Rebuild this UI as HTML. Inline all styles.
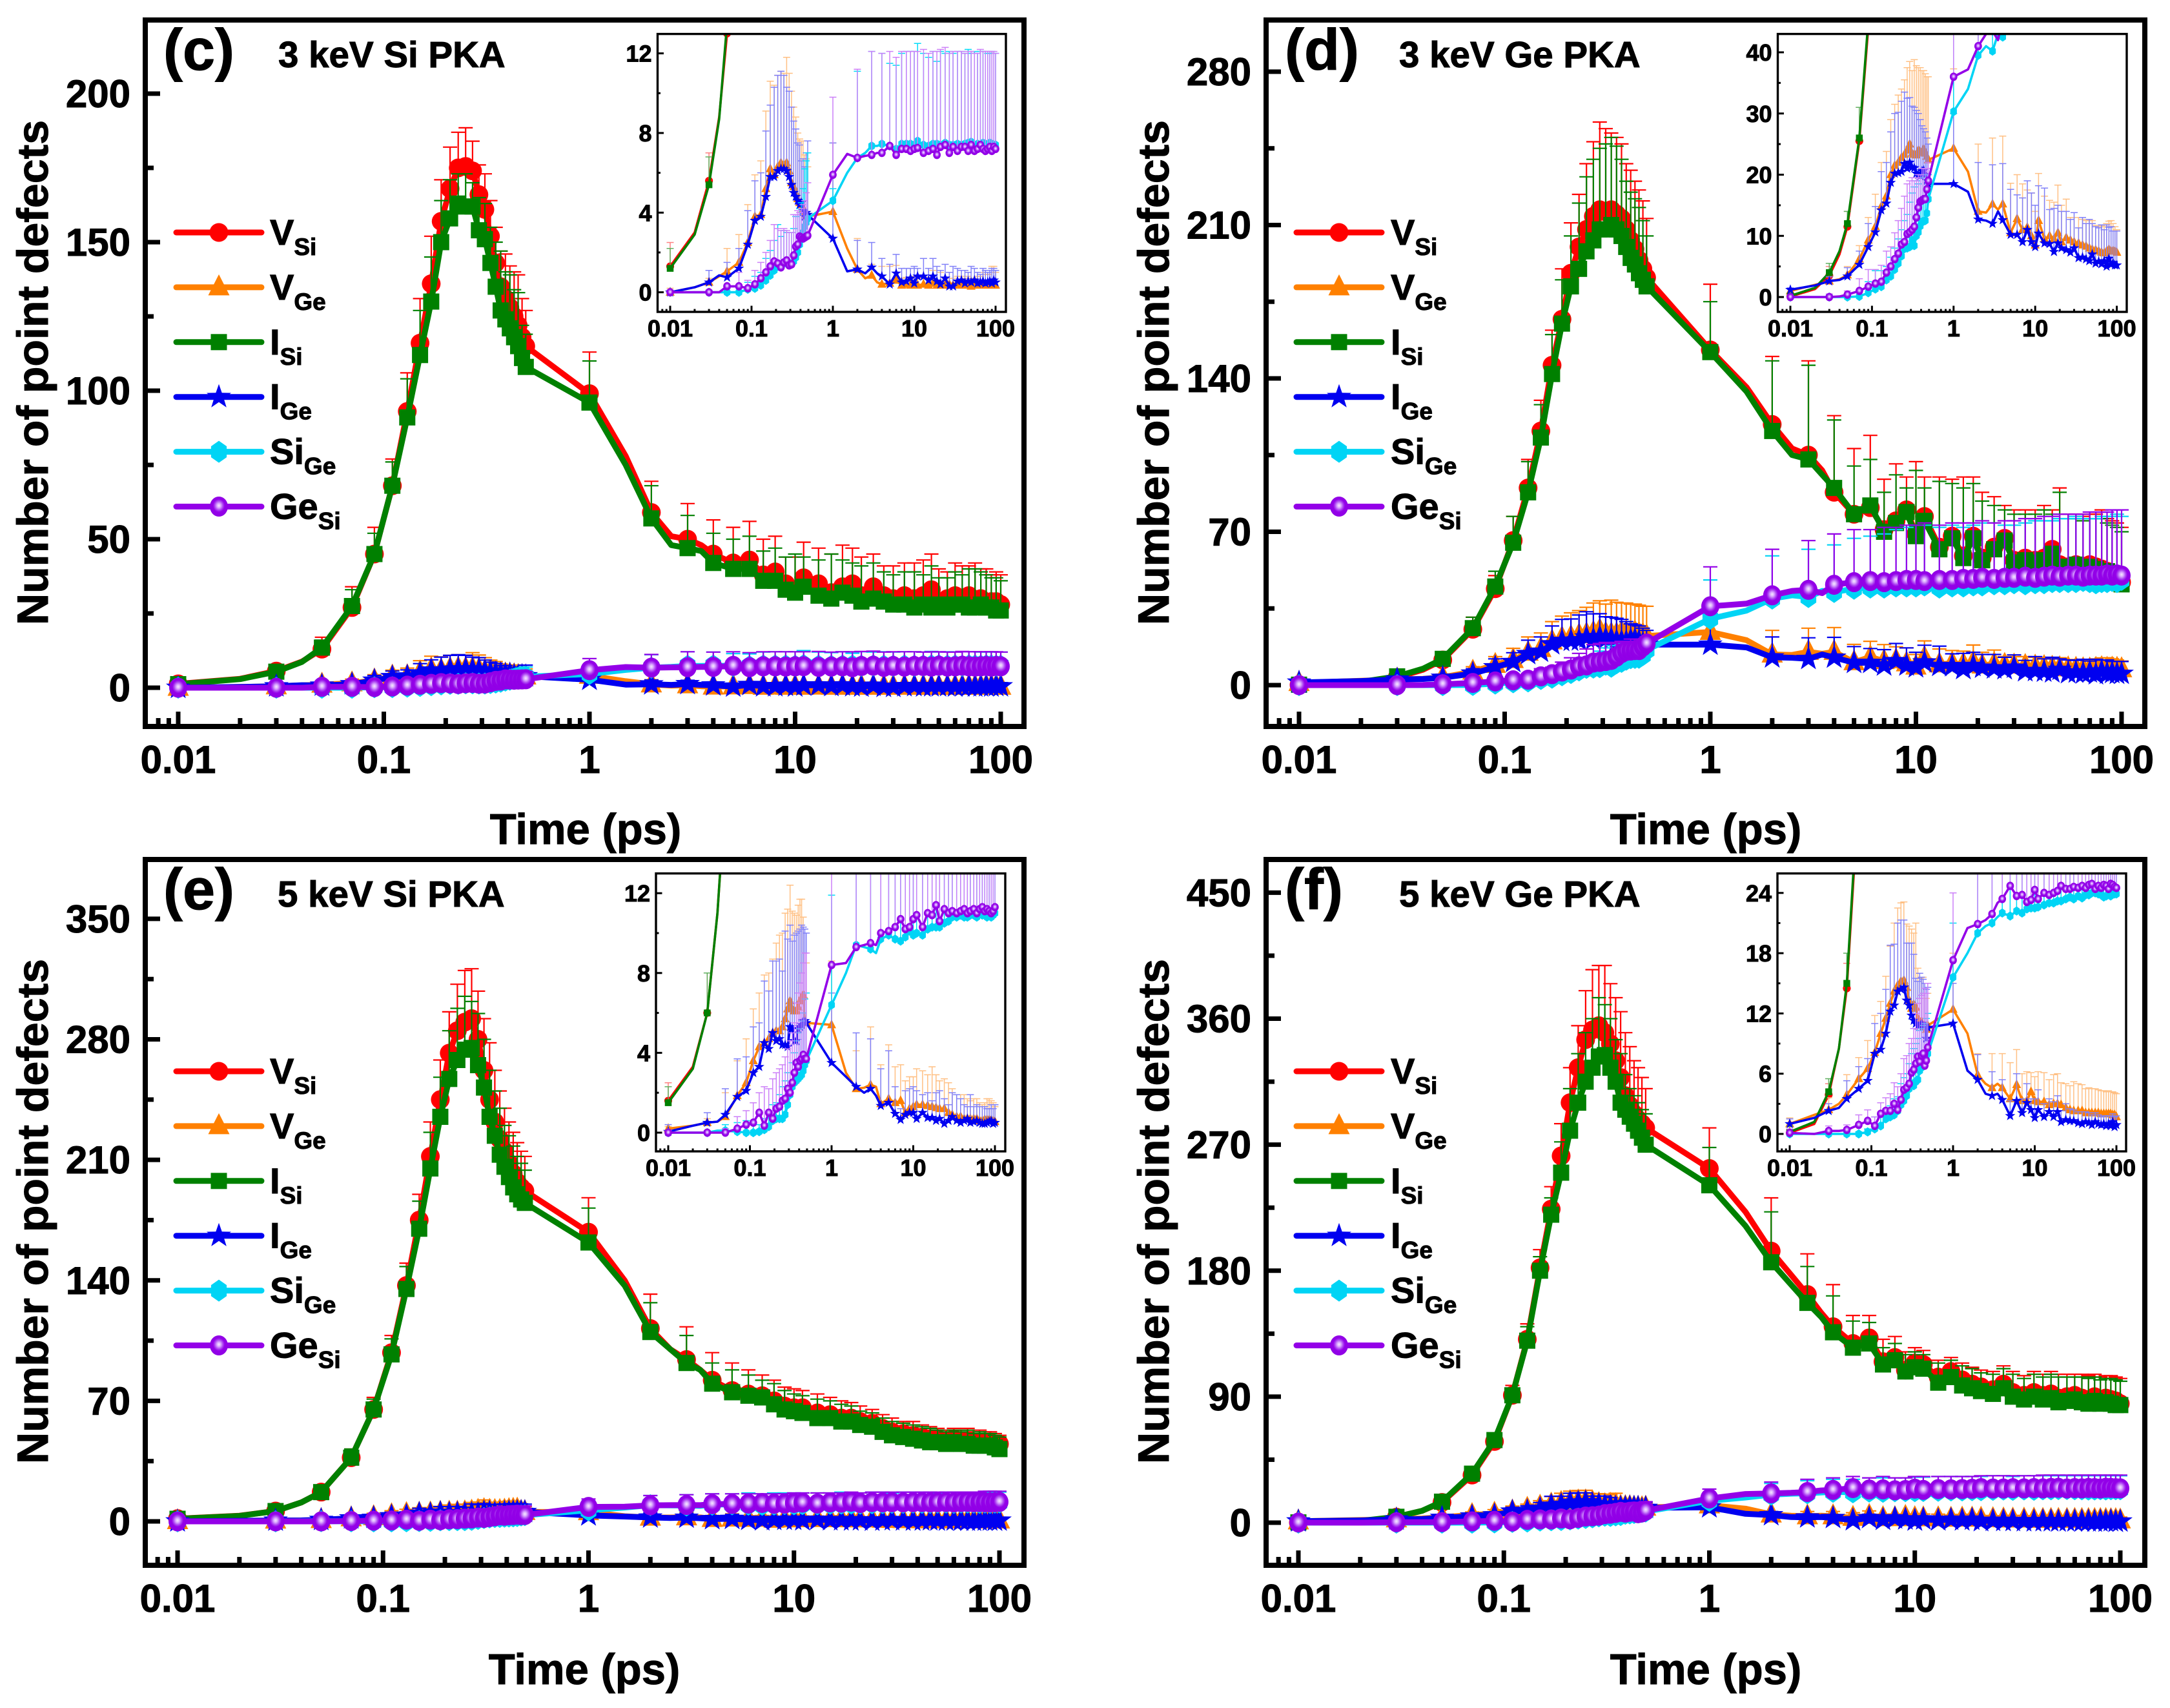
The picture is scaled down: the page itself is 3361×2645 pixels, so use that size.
<!DOCTYPE html>
<html lang="en">
<head>
<meta charset="utf-8">
<title>Number of point defects vs time</title>
<style>
html,body{margin:0;padding:0;background:#fff}
svg{display:block}
text{font-family:"Liberation Sans",Arial,sans-serif;font-weight:bold;fill:#000;stroke:#000;stroke-width:1px}
</style>
</head>
<body>
<svg id="figure" xmlns="http://www.w3.org/2000/svg" width="3361" height="2645" viewBox="0 0 3361 2645">
<defs>
<radialGradient id="gloss" cx="50%" cy="45%" r="50%">
<stop offset="0" stop-color="#f6e8ff"/><stop offset="0.2" stop-color="#dcb0ff"/><stop offset="0.48" stop-color="#a83af0"/><stop offset="0.65" stop-color="#9400e8"/><stop offset="1" stop-color="#9000e6"/>
</radialGradient>
</defs>
</svg>
<script>
// Shared time axis (ps)
const times=[.01,.02,.03,.04,.05,.07,.09,.11,.13,.15,.17,.19,.21,.23,.25,.27,.29,.31,.33,.35,.37,.39,.41,.43,.45,.47,.49,
1,1.5,2,2.5,3,3.5,4,5,6,7,8,9,10,
11,13,15,17,19,21,24,27,30,34,38,42,46,50,55,60,65,70,75,80,85,90,95,100];
// Line vertices that carry no symbol or error bar
const unmarked=[.02,.04,1.5,2.5,3.5];
const xTicks=[.01,.1,1,10,100];
const xTickLabels=['0.01','0.1','1','10','100'];
const seriesKeys=['VSi','VGe','ISi','IGe','SiGe','GeSi'];

// ---------- Panel (c) 3 keV Si PKA ----------
const cVSi=[1.3,3,5.6,8.8,13,27,45,68,93,116,136,157,168,175,175.5,174,166,161,152,143,135,131,128,125,122,118,115,
99,78,59,51,50,48,45,42,43,38,39,35,33,
37,35,32,34,35,31,34,31,30,31,30,31,33,29,30,31,29,31,29,30,28,29,29,28];
const cVGe=[0,.25,.5,.8,1.05,1.5,2.5,3.8,3.9,5.2,6.2,5.9,6.3,6.5,6.4,6.5,6.1,5.5,5.3,5,4.7,4.5,4.4,4.2,4,3.9,3.8,
4.05,2.2,1.15,.7,.85,.5,.4,.45,.6,.35,.4,.35,.4,
.35,.4,.35,.45,.35,.4,.35,.4,.35,.4,.35,.4,.35,.3,.35,.4,.35,.4,.35,.35,.4,.35,.4,.35];
const cISi=[1.2,2.9,5.4,8.7,13.5,27.5,45,68,91,112,130,150,158,163,162,162,154,151,143,135,127,124,121,118,115,111,108,
96,75,57,48,47,46,42,40,40,36,36,33,32,
34,31,30,32,31,29,30,29,28,28,27,28,27,28,27,28,28,27,27,28,27,27,26,26];
const cIGe=[0,.25,.5,.85,.75,1.2,2.4,3.6,3.8,4.8,5.8,5.8,6.1,6.2,6.2,6.1,5.8,5.4,5,4.8,4.6,4.4,4.5,4.1,3.8,4,3.9,
2.7,1.05,1.15,.95,1.25,.95,.8,.4,.95,.5,.55,.7,.45,
.8,.8,.6,.8,.55,.4,.7,.3,.3,.55,.6,.45,.55,.5,.6,.45,.5,.55,.45,.5,.55,.45,.6,.5];
const cSiGe=[0,0,0,0,0,0,.15,.2,.35,.6,.85,1.1,1.3,1.3,1.45,1.45,1.4,1.4,1.55,1.75,2,2.4,2.7,3,3.3,3.5,3.7,
4.6,6,6.75,7,7.35,7.35,7.45,7.35,7.2,7.45,7.45,7.45,7.4,
7.6,7.4,7.35,7.45,7.45,7.4,7.5,7.4,7.4,7.45,7.4,7.45,7.5,7.55,7.4,7.45,7.4,7.5,7.45,7.4,7.5,7.45,7.4,7.4];
const cGeSi=[0,0,0,0,.3,.3,.2,.4,.7,1,1.3,1.55,1.45,1.25,1.5,1.6,1.35,1.4,1.85,2.3,2.4,2.8,2.75,2.7,2.75,2.8,2.85,
5.9,6.95,6.75,6.85,6.9,7,7,7.35,6.9,7.2,7.2,7.1,7.2,
7.25,7,7.1,7.2,6.9,7.3,7.4,7,7.3,7.1,7.3,7.3,7.1,7.4,7.1,7.2,7.4,7.2,7.1,7.2,7.3,7.1,7.3,7.2];
// Upper end of each error bar
const cVSiTop=[2.5,0,7,0,17,34,54,77,106,131,152,171,182,187,188.5,184,176,173,164,155,147,146,142,140,139,131,127,
113,0,69.5,0,62,0,56.5,54,56,50,51,44,44,
49,47,45,48,47,44,45,41,41,42,42,43,45,40,39,42,41,41,42,40,40,38,39,38];
const cVGeTop=[.2,0,.7,0,2.2,2.9,4.4,5.9,6.6,9.1,10.6,10.4,10.9,11.1,11,11.8,11,10.1,9.3,8.8,8,7.7,7.6,7.6,6.9,6.7,6.3,
7.5,0,2.7,0,1.4,0,1.3,1.3,1.35,.7,.75,.7,.8,
.75,.7,.75,1.1,1.1,1,.7,.7,.7,.8,.8,.7,.8,.7,.7,.8,.8,1,.9,.9,1,1.3,1.3,1];
const cISiTop=[2.2,0,6.8,0,16,33,52,76,104,127,145,164,171,173,173,170,165,163,155,150,147,140,139,134,133,122,119,
110,0,68,0,58,0,52,50,51,46,47,44,45,
44,43,45,43,42,41,42,39,38,39,39,38,41,37,37,39,38,40,40,39,38,37,37,36];
const cIGeTop=[.1,0,1.1,0,1.5,2.2,4.1,5.6,6,8.1,9.4,10.3,10.9,11.1,10.9,10.3,10.1,9.3,8.6,8.2,7.5,7.4,6.6,6.7,6.3,7,7.6,
7.5,0,2.6,0,2.5,0,1.7,1.4,1.9,1.2,1.2,1.2,1.3,
1.2,1.7,1.2,1.7,1.3,1.1,1.4,1,1.3,1.2,1.1,1.1,1,1.3,1.2,1,.9,1.2,1.1,1,1.1,1.2,1.2,1.1];
const cSiGeTop=[.1,0,.1,0,.2,.3,.5,.8,1,1.7,2.1,2.6,3.4,2.8,3.1,3,3,3,3.2,3.8,3.9,4.2,4.5,5.2,6.2,6.6,7,
5.2,0,11.1,0,12.1,0,12,11.5,11.4,12,12.1,12.1,12.1,
12.5,12,11.8,12.1,11.6,12.1,12,12.1,12,12.1,12.1,12,12.2,12,12.1,12,12.1,12.1,12.1,12,12,12.1,12,12];
const cGeSiTop=[.1,0,.1,0,.2,1,.6,1.1,1.5,2,2.6,3.4,3.2,3.1,3.2,3.1,3,3,3.9,3.9,4.1,4,4.2,4.4,4.6,5,5.5,
9.8,0,11.2,0,12.1,0,12,12.1,11.8,12.1,12.1,12.1,12.1,
12.1,12.2,12,12.1,12.1,12.2,12.3,12,12.1,12.1,12.1,12,12.1,12.1,12,12,12.2,12.1,12.1,12.1,12.1,12.1,12.1,12];
const cYTicks=[0,50,100,150,200];
const cInsetYTicks=[0,4,8,12];

// ---------- Panel (d) 3 keV Ge PKA ----------
const dVSi=[.1,1.3,3.5,7,11.5,25.5,44,66,90,116,146,167,188,200,208,214,217,216,217,215,213,208,203,199,194,190,186,
153,136,119,108,105,98,88,78,81,71,75,80,69,
77,63,68,59,68,58,63,67,57,58,57,58,62,55,54,55,54,55,54,53,52,50,49,47];
const dVGe=[1,2,2.6,2.9,3.6,6.2,9.3,11.5,14.8,16.5,20,21.5,22,22.8,23.3,24,25,23.5,23.3,23.2,24,23.8,23.6,24.2,23.5,23,22.4,
24.3,20.5,14,13.8,15.2,14.3,15.2,10.5,12.8,11,11.4,10,8.5,
12.5,9.5,10,9.5,10.5,9,9.7,9.3,9,8.8,8.5,8.3,8,7.8,7.7,7.5,7.3,7.2,7.5,7.8,7.5,7.6,7.5,7.3];
const dISi=[.2,1.5,4,7.5,12,26,45,65,88,113,142,165,182,190,198,203,208,208,210,208,205,200,195,192,188,185,182,
152,134,116,105,103,96,90,78,82,70,74,79,68,
75,62,67,58,67,57,62,66,56,57,56,57,60,54,54,55,54,54,53,52,52,50,48,46];
const dIGe=[1.2,1.9,2.6,2.8,3.4,5.3,8.2,10.6,14.2,15.3,18.7,20.2,20.3,20.5,21.8,21,22,21.2,21.1,20.2,20,19.8,20.6,20.7,20,19,18.5,
18.5,17.2,12.7,12.5,12,14,12.6,10.2,10.2,9,11,9,8.2,
10.4,8.8,8.7,7.4,8.8,8,7.7,7.3,8,6.4,6.5,6.2,5.9,7,5.5,5.8,5.4,5.9,5,6.3,5.3,5.6,5.2,5.2];
const dSiGe=[0,0,0,0,0,.1,.7,1.3,1.7,2.8,3.4,4.5,5.5,6.7,7.9,8,8.2,9.3,8.4,10,10.6,11.6,12.3,12.4,12.5,13.7,16,
30.3,34,39.5,41,40.2,43,42.5,44,44.5,44.5,45,45,45,
45.5,44.5,45,45,45.5,45.5,46,46,46.5,46,46.5,46.5,47,47,47,47,47.5,47,46.5,47,47,47.5,47,48];
const dGeSi=[0,0,0,.1,.4,1,1.7,2.2,2.5,4,5,6.2,7.1,8.6,9,10.3,10.6,11,11.5,13,14.6,15.6,15.8,16,16,17.6,19,
36,37.2,41,43,43.5,42,45.8,47,47.5,47,47.5,48,48,
47.5,48,48,48.5,48.5,49,48.5,49,49,49.5,49,49.5,50,49.5,50,50,49.5,50,50,50,50.5,50,50.5,50];
const dVSiTop=[.5,0,5,0,14,31,50,77,103,130,162,190,211,224,238,248,257,254,252,250,247,238,235,230,226,221,213,
183,0,150,0,148,0,123,108,114,94,101,95,102,
95,95,94,95,95,88,86,82,80,80,80,82,80,90,78,78,77,78,78,80,76,75,74,72];
const dVGeTop=[1.5,0,3.5,0,5,8.4,13,16.8,22,23.8,29,31.5,33,34,35.5,37.5,38.5,37,38.8,37.8,37.5,37.5,37,37,36.5,36,36,
37.3,0,25,0,26,0,26.3,18.6,20,18.5,17.5,17,14,
20.2,16.5,15.8,15.5,18.3,15,16,13,13,13,12.7,12.5,12.5,12.5,11.7,11.5,11.7,11.5,12,12.4,12.5,12,11.5,11];
const dISiTop=[.5,0,5.5,0,14,31,52,77,102,128,160,185,205,220,232,240,245,247,250,246,240,230,225,222,218,212,205,
175,0,148,0,146,0,121,100,103,88,96,90,98,
90,93,92,90,92,84,82,80,78,78,78,80,78,88,76,76,75,76,76,76,74,73,72,70];
const dIGeTop=[1.5,0,3.3,0,4.8,7.5,12,14.8,20.5,22,27,30,30.2,32,33.5,32.5,32.6,31.2,31,30.5,30,29,28,27.5,27,26,25,
30,0,22,0,21.6,0,21.8,17.6,16.7,16.2,19,17,15,
18.2,17.8,14.3,14.5,15,14,14,12.7,13.8,11.3,13,12,12.7,12,11.5,11.3,11.8,11,11.8,11.4,11.5,10.8,10.8,10.8];
const dSiGeTop=[.1,0,.3,0,.6,1,2.5,4.3,4.3,5,6.5,8,9.5,11,12.5,13.5,15.5,17,18,19,18.5,19.5,20,19.5,20,19,20,
48,0,59,0,62,0,64,67,68,69,71,72,73,
73,72,73,72,73,74,74,73,73,74,75,75,75,76,76,77,76,76,76,77,77,77,78,77];
const dGeSiTop=[.1,0,.5,0,1,3,4.5,4.5,5.2,7.5,8.2,10.5,12.5,14.5,16.5,18.5,19,19.5,19,19.5,20,20,21,21,21,21,22,
54,0,62,0,66,0,69,71,71,72,72,73,73,
74,73,74,74,74,75,74,75,75,76,76,77,77,78,78,78,78,79,79,79,79,80,80,80];
const dYTicks=[0,70,140,210,280];
const dInsetYTicks=[0,10,20,30,40];

// ---------- Panel (e) 5 keV Si PKA ----------
const eVSi=[1.6,3.3,6,11,17,37,65,98,137,175,212,245,272,285,290,292,280,262,245,232,222,215,208,202,197,194,192,
168,140,112,100,94,88,82,76,74,73,70,67,66,
66,63,62,60,60,58,57,54,52,51,50,49,48,48,47,48,47,47,46,46,46,46,45,45];
const eVGe=[.2,.35,.5,.55,.8,1.85,2.5,3.6,4.3,4.5,4.7,5,5.1,5.1,5.3,5.7,6.2,6.6,6.2,6.1,6.1,6.3,6.6,6.8,6.9,5.6,5.5,
5.4,3,2.2,2.25,2.4,2.3,1.45,1.7,1.5,1.6,1,1.2,1.3,
1.4,1.4,1.35,1.3,1.25,1.2,1.2,1,.9,.8,.8,.7,.7,.7,.7,.7,.6,.6,.65,.65,.65,.6,.6,.55];
const eISi=[1.5,3.2,6,11,17,37,65,97,135,170,205,235,257,268,274,275,265,252,235,224,213,206,200,194,190,187,185,
162,137,110,100,92,88,80,75,73,72,68,65,64,
63,60,60,58,58,56,55,52,50,49,48,47,46,46,45,46,45,45,44,44,44,44,43,42];
const eIGe=[.05,.35,.5,.55,.9,1.8,2.1,3,3.3,4.5,4.2,5,4.6,4.7,4.4,4.4,4.3,5.3,5.2,4.6,4.6,5.2,5.3,5.4,5.6,5.6,5.5,
3.5,2.8,2.3,2,2.2,1.85,1.35,1.5,.95,.65,.9,1,1,
.7,1,.75,.75,.6,.7,.45,.6,.8,.6,.5,.6,.7,.5,.55,.6,.5,.45,.45,.5,.55,.6,.45,.5];
const eSiGe=[0,0,0,.1,.1,.05,0,0,.05,.15,.3,.6,.7,.7,.7,.9,1.4,1.9,2.3,2.5,2.6,2.7,2.8,2.9,3.1,3.4,3.6,
6.4,8,9.4,9.3,9.2,9,9.7,9.9,9.7,9.6,9.8,10.1,9.9,
10,9.9,10.2,10.3,10.3,10.3,10.5,10.6,10.8,10.8,10.9,10.8,10.8,10.9,10.9,10.8,11,10.9,10.9,10.8,10.9,10.8,10.9,11];
const eGeSi=[0,0,0,0,0,.2,.4,.5,1,.35,1,.7,1.2,1.3,1.6,1.7,2.2,2,2.5,3,3.5,3.3,3.6,3.7,3.9,3.7,3.7,
8.4,8.5,9.3,9.4,9.5,9.4,10,10.1,10.3,10.7,10.2,10.3,10.7,
10.9,10.3,11,10.9,11.4,10.6,11.2,11,11.1,11,11.1,11.2,11,11.1,11.2,11,11.2,11.3,11.1,11.2,11.1,11,11.1,11.3];
const eVSiTop=[2.5,0,8,0,20,42,72,108,150,190,232,268,296,312,320,321,308,292,278,262,250,240,232,226,220,215,212,
188,0,132,0,113,0,98,92,88,85,82,78,77,
76,74,72,70,69,67,65,62,60,58,58,56,55,54,53,54,53,54,52,53,52,52,51,50];
const eVGeTop=[.3,0,.7,0,2,3.6,4.7,6.2,7,7.9,8,8.7,9.5,9.9,10,11,11.2,12.4,11.1,11,10.9,11.4,11.7,11.7,10.8,9,8.5,
8.6,0,4.1,0,5.3,0,3.4,4.4,3.3,3.4,2.6,2.8,2.8,
3.2,3.1,2.9,3.3,2.9,2.6,2.7,2.5,2.2,1.9,1.9,1.9,1.7,1.6,1.7,1.7,1.5,1.4,1.5,1.7,1.7,1.6,1.5,1.3];
const eISiTop=[2.3,0,8,0,20,42,71,106,148,186,226,258,285,298,305,302,295,280,262,250,240,230,224,218,212,208,204,
182,0,127,0,108,0,92,88,85,82,80,76,74,
73,71,70,68,67,64,63,60,58,57,56,55,54,53,52,53,52,53,51,52,51,51,50,49];
const eIGeTop=[.4,0,1,0,2.2,3.7,3.8,5.3,5.5,7.6,7.1,8.6,8.6,8.7,8.1,10.1,9.7,10.4,9.6,9.9,10,10.1,10.2,10.4,10.3,10.2,10,
7,0,5,0,4.7,0,3.2,4.1,2.3,1.2,2.1,2.2,2.3,
2.1,1.9,2,1.6,2,2.1,1.7,1.4,2,1.9,1.7,1.4,1.3,1.9,1.3,1.4,1.3,1.3,1.3,1.2,1.2,1.4,1.2,1.4];
const eSiGeTop=[.1,0,.1,0,.4,.5,.6,.4,.4,.7,1,1.4,1.5,1.9,2.3,2.6,3,3,3.5,4,4.6,5,5.2,5.6,6,6.7,7,
11.9,0,15,0,15.5,0,16,16,16.5,16,16.5,16.5,16.5,
16.5,16.5,16.5,17,16.5,16.5,17,17,16.5,17,17,17,17,16.5,17,17,17,17,17,17,16.5,17,17,17];
const eGeSiTop=[.1,0,.1,0,.2,.8,1.1,1.5,2,2.3,2.2,2.7,3,3.2,3.4,3.8,4.2,4.6,5,5.5,6.5,7,7.5,8,8.5,9,9,
13,0,15,0,15.5,0,16,16,16,16,16,16,16.5,
16.5,16.5,16.5,16.5,17,16.5,17,17,17,17,17,17,17,17,17,17,17,17,17,17,17.5,17.5,17.5,17.5];
const eYTicks=[0,70,140,210,280,350];
const eInsetYTicks=[0,4,8,12];

// ---------- Panel (f) 5 keV Ge PKA ----------
const fVSi=[.1,1,3.9,8.5,14.5,34,58,91,131,182,224,262,300,325,345,352,355,350,342,330,318,305,298,292,288,285,282,
253,222,194,177,163,150,140,128,132,115,118,109,114,
113,104,108,102,99,97,95,99,93,91,93,91,92,89,90,91,89,88,90,88,89,88,87,85];
const fVGe=[1,1.9,2.4,3,3.9,5.5,6.5,8.1,10,11.5,13,14.2,14.8,15.2,15.3,14.6,13.3,12.5,12.9,12.6,11.5,11.2,11.2,10.8,10.7,10.4,10.8,
12.4,10,5.9,5,4.6,5,4.6,3.5,4.9,3.3,3.3,4.2,3.3,
3.2,3.2,2.9,3,3,2.9,2.6,2.4,2.3,2.3,2.3,2.1,2.1,2.1,2.1,2.1,2,2,2,2,2,1.9,1.9,1.7];
const fISi=[.2,1.2,4.2,8.5,15,35,59,91,130,180,220,250,280,300,315,325,333,334,325,315,300,295,290,285,280,275,270,
241,212,186,170,157,147,136,125,128,113,116,108,111,
110,100,104,98,96,94,92,96,90,88,90,88,89,86,87,88,86,85,87,85,86,85,84,84];
const fIGe=[1,1.6,2.3,2.6,3.5,4.5,5.3,8,8.4,10,12.2,12.8,14.2,14.4,14.6,13.3,12.8,11.8,11.3,11,10.8,10.8,11,10.8,10.8,9.5,10.6,
11,6.3,5.4,4,3.8,4,3.4,1.8,3.3,2.1,3.1,2.4,1.6,
2.4,1.7,2.2,1.7,2.2,1.2,1.4,1.3,1.3,1.1,1,1.2,1.1,.9,1.2,1,.9,1,.8,1,.8,1.2,.7,.9];
const fSiGe=[0,0,0,0,0,0,.2,.5,.8,1.5,1.7,1.9,2.3,2.9,3.3,3.8,4.5,5,4.8,5.2,5.4,6.3,6.6,6.9,7.3,7.6,8,
15.6,18,20,20.7,21,21.6,22,21.7,22.2,22,22.4,22.5,22.5,
22.6,22.8,23,23,23.2,23.2,23.4,23.6,23.4,23.7,23.5,23.8,23.8,24,24,23.9,23.8,23.6,23.7,23.9,23.7,23.9,23.9,23.9];
const fGeSi=[.1,0,.3,.3,.4,.9,1.3,.8,2,2.3,2.3,3,2.4,3.4,4.4,4.6,5,6.1,6.4,7,7.7,7.2,7.8,8,6.8,7.3,8.6,
17.3,20.5,20.9,21.3,21.9,23,23.4,24.7,23.7,23.8,23.1,23.3,24.3,
23.4,24,23.8,24,24.2,24.7,24.4,24.4,24.6,24.5,24.7,24.5,24.8,24.9,24.4,24.7,24.5,24.8,24.7,24.4,24.9,24.8,24.6,24.5];
const fVSiTop=[.4,0,5,0,17,39,64,98,142,195,240,285,325,355,380,395,398,398,385,375,365,350,340,330,325,318,310,
282,0,232,0,192,0,170,148,148,131,133,122,125,
123,116,118,114,111,109,108,112,108,105,108,106,108,106,106,106,106,105,106,104,105,105,104,103];
const fVGeTop=[1.6,0,3.6,0,5.9,7.6,9.3,11.8,13.2,15.7,18.7,21,22.5,23,23.1,20.9,20.7,20.4,20,21,16.5,15.5,15.6,15.6,14,13.5,14,
18,0,8,0,8,0,8,7.1,8.4,6,6.2,6.1,5.7,
6.2,6.1,5.4,5.9,6,5.1,5,4.8,5.2,5,4.9,4.5,4.6,4.5,4.5,4.4,4.3,4.3,4.2,4.3,4.2,4.2,4.1,4];
const fISiTop=[.8,0,5.5,0,18,40,64,96,140,190,232,272,310,335,350,360,375,370,360,345,335,320,310,305,300,295,292,
268,0,222,0,183,0,162,144,143,125,128,120,122,
120,114,116,112,110,107,106,110,106,103,106,104,106,104,104,104,104,103,104,102,103,103,102,101];
const fIGeTop=[1.5,0,3,0,5.3,6.7,7.5,11,12,14.4,18.8,18.9,21,21.3,21.3,19,19,19,17.9,15.5,15.2,16,15.6,15.4,15,14.4,14.6,
15,0,7.9,0,6.2,0,5.4,3.3,6,3.5,5,3.5,3.5,
4.4,3,3.5,3.2,3.8,2.3,3,2.5,2.4,2.2,2.2,2.2,2.1,1.9,2.1,1.9,1.7,1.8,1.8,1.8,1.8,2,1.7,1.8];
const fSiGeTop=[.1,0,.1,0,.2,.2,.5,1.7,1.9,2.5,2.8,3.5,3.7,5,5.6,6,7,8,8.5,9,9.5,10.3,10.5,10.8,11,11.5,12,
21,0,28,0,30,0,31,31,32,32,32,32,32.5,
32.5,33,33,33,33,33,33.5,33.5,33,33.5,33.5,33.5,33.5,33.5,33.5,33.5,33.5,33.5,33.5,33.5,33.5,33.5,33.5,33.5];
const fGeSiTop=[.5,0,.8,0,.9,1.9,2.4,1.7,3.1,3.6,4,5.1,4.7,6,7.5,7.8,9,9.5,10.5,12,13,13.5,13.8,14,14.5,14,15,
24,0,29,0,31,0,32,33,32,33,32,32,33,
33,33,33,33,33,33.5,33.5,33.5,33.5,33.5,33.5,34,34,34,34,34,34,34,34,34,34,34,34,34];
const fYTicks=[0,90,180,270,360,450];
const fInsetYTicks=[0,6,12,18,24];

const NS='http://www.w3.org/2000/svg';
const root=document.getElementById('figure');
const colors={VSi:'#ff0000',VGe:'#ff8000',ISi:'#008000',IGe:'#0000f0',SiGe:'#00d4f5',GeSi:'#9400e8'};
const paleColors={VSi:'#ff8080',VGe:'#ffc084',ISi:'#60b060',IGe:'#8080f8',SiGe:'#00dcf8',GeSi:'#cc80f8'};
const legendParts={VSi:['V','Si'],VGe:['V','Ge'],ISi:['I','Si'],IGe:['I','Ge'],SiGe:['Si','Ge'],GeSi:['Ge','Si']};

function make(tag,attrs,parent,name){
  const el=document.createElementNS(NS,tag);
  for(const k in attrs)el.setAttribute(k,attrs[k]);
  
  
  parent.appendChild(el);
  return el;
}
function label(parent,str,x,y,size,anchor,name){
  const t=make('text',{x:x,y:y,'font-size':size,'text-anchor':anchor},parent,name);
  t.textContent=str;
  return t;
}
function starPoints(cx,cy,R,r){
  const p=[];
  for(let i=0;i<10;i++){
    const a=-Math.PI/2+i*Math.PI/5,q=i%2?r:R;
    p.push((cx+q*Math.cos(a)).toFixed(1)+','+(cy+q*Math.sin(a)).toFixed(1));
  }
  return p.join(' ');
}
function marker(parent,key,x,y,s){
  const c=colors[key];
  if(key==='VSi')return make('circle',{cx:x,cy:y,r:14.5*s,fill:c},parent,'vsi-marker');
  if(key==='VGe'){
    const pts=x+','+(y-20*s)+' '+(x+16.5*s)+','+(y+12.5*s)+' '+(x-16.5*s)+','+(y+12.5*s);
    return make('polygon',{points:pts,fill:c},parent,'vge-marker');
  }
  if(key==='ISi')return make('rect',{x:x-12.5*s,y:y-12.5*s,width:25*s,height:25*s,fill:c},parent,'isi-marker');
  if(key==='IGe')return make('polygon',{points:starPoints(x,y,20*s,8*s),fill:c},parent,'ige-marker');
  if(key==='SiGe'){
    const p=[];
    for(let i=0;i<6;i++){const a=-Math.PI/2+i*Math.PI/3;p.push((x+14*s*Math.cos(a)).toFixed(1)+','+(y+17*s*Math.sin(a)).toFixed(1));}
    return make('polygon',{points:p.join(' '),fill:c},parent,'sige-marker');
  }
  return make('ellipse',{cx:x,cy:y,rx:14*s,ry:15.5*s,fill:'url(#gloss)'},parent,'gesi-marker');
}
function drawSeries(parent,panel,sx,sy,opt){
  seriesKeys.forEach(function(key){
    const vals=panel.values[key],tops=panel.tops[key];
    const g=make('g',{},parent,opt.prefix+key.toLowerCase()+'-series');
    const c=colors[key];
    // error bars
    const bars=make('g',{stroke:opt.pale?paleColors[key]:c,'stroke-width':opt.errW,fill:'none'},g,key.toLowerCase()+'-error-bars');
    times.forEach(function(t,i){
      if(unmarked.indexOf(t)>=0||!tops[i])return;
      const x=sx(t).toFixed(1),y0=sy(vals[i]).toFixed(1),y1=sy(tops[i]).toFixed(1);
      make('path',{d:'M'+x+' '+y0+'V'+y1+'M'+(x-opt.cap)+' '+y1+'H'+(+x+opt.cap)},bars,key.toLowerCase()+'-error-bar');
    });
    // connecting line
    const pts=times.map(function(t,i){return sx(t).toFixed(1)+','+sy(vals[i]).toFixed(1);}).join(' ');
    make('polyline',{points:pts,fill:'none',stroke:c,'stroke-width':opt.lineW,'stroke-linejoin':'round','stroke-linecap':'round'},g,key.toLowerCase()+'-line');
    // symbols
    times.forEach(function(t,i){
      if(unmarked.indexOf(t)>=0)return;
      marker(g,key,sx(t),sy(vals[i]),opt.s);
    });
  });
}
function axes(parent,box,sx,sy,yTicks,o){
  const frame=make('g',{fill:'none',stroke:'#000','stroke-width':o.tickW},parent,o.prefix+'axes');
  const step=yTicks[1]-yTicks[0];
  // y ticks
  for(let v=-step/2;sy(v)>box.t+o.margin;v+=step/2){
    if(sy(v)>box.b-o.margin)continue;
    const major=yTicks.indexOf(v)>=0;
    make('line',{x1:box.l,x2:box.l+(major?o.major:o.minor),y1:sy(v),y2:sy(v)},frame,major?'y-major-tick':'y-minor-tick');
  }
  yTicks.forEach(function(v){
    label(parent,String(v),box.l-o.ylabGap,sy(v)+o.ylabDy,o.font,'end',o.prefix+'y-tick-label');
  });
  // x ticks
  for(let d=-3;d<=2;d++){
    for(let m=1;m<=9;m++){
      const t=m*Math.pow(10,d),x=sx(t);
      if(x<box.l+o.margin/2||x>box.r-o.margin/2)continue;
      make('line',{x1:x,x2:x,y1:box.b,y2:box.b-(m===1?o.major:o.minor)},frame,m===1?'x-major-tick':'x-minor-tick');
    }
  }
  xTicks.forEach(function(t,i){
    label(parent,xTickLabels[i],sx(t),box.b+o.xlabDy,o.font,'middle',o.prefix+'x-tick-label');
  });
  make('rect',{x:box.l,y:box.t,width:box.r-box.l,height:box.b-box.t,fill:'none','stroke-width':o.frameW},frame,o.prefix+'frame');
}

const panels=[
 {id:'c',letter:'(c)',title:'3 keV Si PKA',
  values:{VSi:cVSi,VGe:cVGe,ISi:cISi,IGe:cIGe,SiGe:cSiGe,GeSi:cGeSi},
  tops:{VSi:cVSiTop,VGe:cVGeTop,ISi:cISiTop,IGe:cIGeTop,SiGe:cSiGeTop,GeSi:cGeSiTop},
  yTicks:cYTicks,insetTicks:cInsetYTicks,
  box:{l:225,r:1586,t:31,b:1125},x0:276,dec:318.5,y0:1065,k:4.6,
  ibox:{l:1018.5,r:1558,t:52.6,b:483},ix0:1038,idec:126,iy0:452.6,ik:30.83,
  letterX:253,titleX:431,legendX:273,legendText:418,legendY:360,ylabelX:74,ylabelY:577,timeX:907,timeY:1307},
 {id:'d',letter:'(d)',title:'3 keV Ge PKA',
  values:{VSi:dVSi,VGe:dVGe,ISi:dISi,IGe:dIGe,SiGe:dSiGe,GeSi:dGeSi},
  tops:{VSi:dVSiTop,VGe:dVGeTop,ISi:dISiTop,IGe:dIGeTop,SiGe:dSiGeTop,GeSi:dGeSiTop},
  yTicks:dYTicks,insetTicks:dInsetYTicks,
  box:{l:1961,r:3322,t:31,b:1125},x0:2012,dec:318.5,y0:1061,k:3.393,
  ibox:{l:2753.5,r:3294,t:52.6,b:483},ix0:2773,idec:126.4,iy0:460,ik:9.475,
  letterX:1990,titleX:2167,legendX:2008,legendText:2154,legendY:360,ylabelX:1810,ylabelY:577,timeX:2642,timeY:1307},
 {id:'e',letter:'(e)',title:'5 keV Si PKA',
  values:{VSi:eVSi,VGe:eVGe,ISi:eISi,IGe:eIGe,SiGe:eSiGe,GeSi:eGeSi},
  tops:{VSi:eVSiTop,VGe:eVGeTop,ISi:eISiTop,IGe:eIGeTop,SiGe:eSiGeTop,GeSi:eGeSiTop},
  yTicks:eYTicks,insetTicks:eInsetYTicks,
  box:{l:225,r:1586,t:1331,b:2424},x0:275,dec:318.25,y0:2356,k:2.666,
  ibox:{l:1016,r:1557,t:1352.6,b:1783},ix0:1035,idec:126.5,iy0:1754,ik:30.9,
  letterX:253,titleX:430,legendX:273,legendText:418,legendY:1659,ylabelX:74,ylabelY:1876,timeX:905,timeY:2608},
 {id:'f',letter:'(f)',title:'5 keV Ge PKA',
  values:{VSi:fVSi,VGe:fVGe,ISi:fISi,IGe:fIGe,SiGe:fSiGe,GeSi:fGeSi},
  tops:{VSi:fVSiTop,VGe:fVGeTop,ISi:fISiTop,IGe:fIGeTop,SiGe:fSiGeTop,GeSi:fGeSiTop},
  yTicks:fYTicks,insetTicks:fInsetYTicks,
  box:{l:1961,r:3322,t:1331,b:2424},x0:2011,dec:318.25,y0:2358,k:2.168,
  ibox:{l:2753,r:3293,t:1352.6,b:1783},ix0:2772,idec:126.5,iy0:1756,ik:15.55,
  letterX:1990,titleX:2167,legendX:2008,legendText:2154,legendY:1659,ylabelX:1810,ylabelY:1876,timeX:2642,timeY:2608}
];

panels.forEach(function(p){
  const panel=make('g',{},root,'panel-'+p.id);
  const sx=function(t){return p.x0+(Math.log10(t)+2)*p.dec;};
  const sy=function(v){return p.y0-v*p.k;};
  drawSeries(panel,p,sx,sy,{prefix:'main-',errW:2.2,pale:false,cap:11,lineW:9,s:1});
  axes(panel,p.box,sx,sy,p.yTicks,{prefix:'main-',tickW:7,frameW:8,major:23,minor:13,margin:14,font:60,ylabGap:23,ylabDy:21,xlabDy:72});

  // panel annotations
  label(panel,p.letter,p.letterX,p.box.t+77,90,'start','panel-letter');
  label(panel,p.title,p.titleX,p.box.t+73,56.5,'start','panel-title');
  label(panel,'Time (ps)',p.timeX,p.timeY,67,'middle','x-axis-title');
  const yt=label(panel,'Number of point defects',p.ylabelX,p.ylabelY,68,'middle','y-axis-title');
  yt.setAttribute('transform','rotate(-90 '+p.ylabelX+' '+p.ylabelY+')');

  // legend
  const leg=make('g',{},panel,'legend');
  seriesKeys.forEach(function(key,i){
    const y=p.legendY+i*84.9;
    const row=make('g',{},leg,'legend-entry');
    make('line',{x1:p.legendX,x2:p.legendX+132,y1:y,y2:y,stroke:colors[key],'stroke-width':9,'stroke-linecap':'round'},row,'legend-line');
    marker(row,key,p.legendX+66,y,1);
    const t=label(row,legendParts[key][0],p.legendText,y+19,56,'start','legend-label');
    const sub=document.createElementNS(NS,'tspan');
    
    
    sub.setAttribute('font-size','37');
    sub.setAttribute('dy','16');
    sub.textContent=legendParts[key][1];
    t.appendChild(sub);
  });

  // inset
  const ib=p.ibox;
  const isx=function(t){return p.ix0+(Math.log10(t)+2)*p.idec;};
  const isy=function(v){return p.iy0-v*p.ik;};
  const inset=make('g',{},panel,'inset-'+p.id);
  const clip=make('clipPath',{id:'clip-'+p.id},inset,'inset-clip');
  make('rect',{x:ib.l,y:ib.t,width:ib.r-ib.l,height:ib.b-ib.t},clip,'inset-clip-rect');
  const plot=make('g',{'clip-path':'url(#clip-'+p.id+')'},inset,'inset-plot');
  drawSeries(plot,p,isx,isy,{prefix:'inset-',errW:1.5,pale:true,cap:5.5,lineW:3.6,s:.42});
  axes(inset,ib,isx,isy,p.insetTicks,{prefix:'inset-',tickW:3,frameW:3.4,major:9.5,minor:4.5,margin:6,font:36,ylabGap:9,ylabDy:13,xlabDy:38});
});
</script>
</body>
</html>
